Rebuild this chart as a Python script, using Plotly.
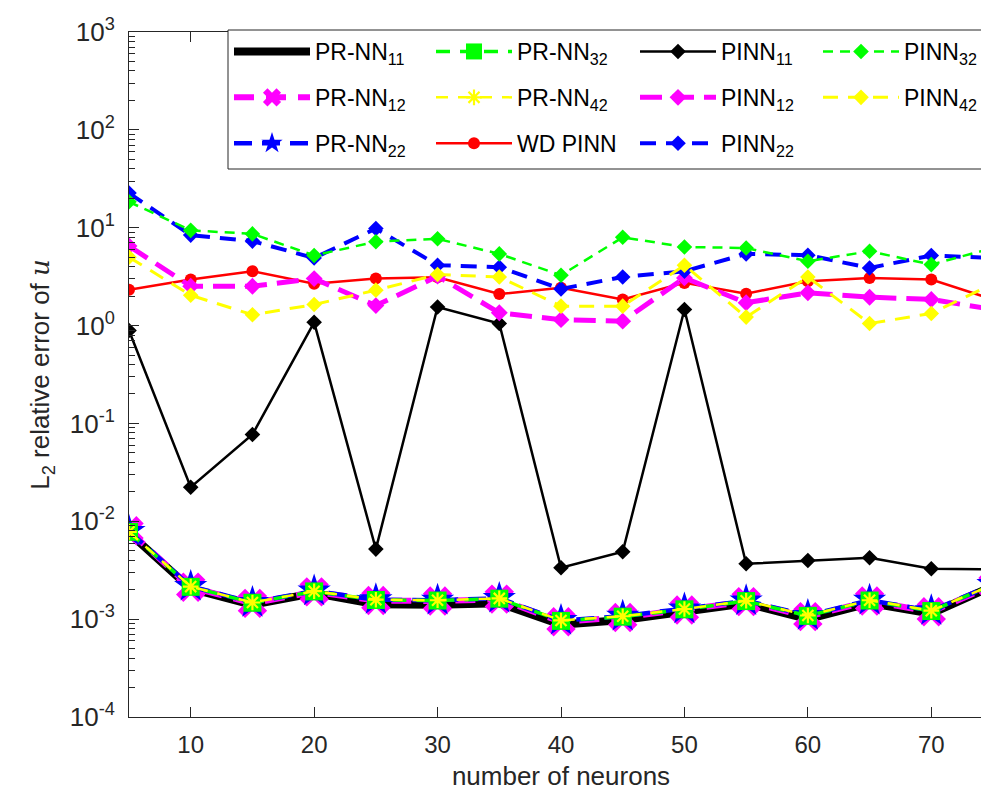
import plotly.graph_objects as go

# ---------------- data ----------------
neurons = [5, 10, 15, 20, 25, 30, 35, 40, 45, 50, 55, 60, 65, 70, 75]

prnn_11 = [0.0076, 0.00205, 0.00140, 0.00185, 0.00142, 0.00140, 0.00145, 0.00088, 0.00098, 0.00118, 0.00145, 0.00100, 0.00146, 0.00114, 0.00218]
prnn_12 = [0.0080, 0.00212, 0.00145, 0.00190, 0.00155, 0.00153, 0.00160, 0.00094, 0.00104, 0.00124, 0.00151, 0.00106, 0.00153, 0.00119, 0.00222]
prnn_22 = [0.0079, 0.00216, 0.00148, 0.00194, 0.00158, 0.00156, 0.00163, 0.00097, 0.00107, 0.00127, 0.00154, 0.00109, 0.00156, 0.00122, 0.00226]
prnn_32 = [0.0078, 0.00214, 0.00147, 0.00192, 0.00157, 0.00155, 0.00162, 0.00096, 0.00106, 0.00126, 0.00153, 0.00108, 0.00155, 0.00121, 0.00225]
prnn_42 = [0.0078, 0.00215, 0.00148, 0.00193, 0.00158, 0.00156, 0.00163, 0.00097, 0.00107, 0.00127, 0.00154, 0.00109, 0.00156, 0.00122, 0.00226]
wd_pinn = [2.32, 2.95, 3.59, 2.67, 3.02, 3.12, 2.10, 2.43, 1.85, 2.73, 2.12, 2.84, 3.07, 2.95, 1.85]
pinn_11 = [0.89, 0.0223, 0.077, 1.08, 0.0052, 1.55, 1.05, 0.00335, 0.00489, 1.46, 0.00368, 0.00398, 0.00424, 0.00327, 0.00322]
pinn_12 = [6.5, 2.52, 2.52, 3.02, 1.60, 3.20, 1.35, 1.15, 1.11, 3.07, 1.71, 2.16, 1.95, 1.85, 1.46]
pinn_22 = [22.6, 8.4, 7.3, 4.9, 9.8, 4.14, 3.95, 2.37, 3.14, 3.59, 5.4, 5.24, 3.88, 5.2, 4.9]
pinn_32 = [18.4, 9.4, 8.65, 5.2, 7.2, 7.7, 5.4, 3.27, 7.98, 6.36, 6.2, 4.54, 5.75, 4.2, 6.2]
pinn_42 = [5.0, 2.04, 1.29, 1.64, 2.3, 3.32, 3.14, 1.58, 1.58, 4.14, 1.22, 3.14, 1.05, 1.33, 2.67]

x_tickvals = [10, 20, 30, 40, 50, 60, 70]
y_tickvals = [1e-4, 1e-3, 1e-2, 1e-1, 1e0, 1e1, 1e2, 1e3]
y_ticktext = ["10<sup>-4</sup>", "10<sup>-3</sup>", "10<sup>-2</sup>", "10<sup>-1</sup>",
              "10<sup>0</sup>", "10<sup>1</sup>", "10<sup>2</sup>", "10<sup>3</sup>"]

FONT = "Liberation Sans, Arial, Helvetica, sans-serif"
AX = "#262626"

# figure geometry (pixels)
W, H = 989, 794
ML, MR, MT, MB = 121, 4, 24, 85
PW, PH = W - ML - MR, H - MT - MB


def px_x(p):
    return (p - ML) / PW


def px_y(p):
    return (H - MB - p) / PH


fig = go.Figure()


def add(name, y, color, width, dash, symbol, size, leg, mline=0):
    mode = "lines+markers" if symbol else "lines"
    marker = dict(color=color, size=size, symbol=symbol or "circle",
                  line=dict(color=color, width=mline))
    fig.add_trace(go.Scatter(x=neurons, y=y, name=name, mode=mode,
                             line=dict(color=color, width=width, dash=dash),
                             marker=marker, legend=leg, legendgroup=name))


add("PR-NN<sub>11</sub>", prnn_11, "#000000", 8, "solid", None, 10, "legend")
add("PR-NN<sub>12</sub>", prnn_12, "#FF00FF", 6, "20px,12px", "x", 26, "legend")
add("PR-NN<sub>22</sub>", prnn_22, "#0000FF", 4.5, "18px,10px", "star", 25, "legend")
add("PR-NN<sub>32</sub>", prnn_32, "#00FF00", 3.5, "14px,10px", "square", 18, "legend2")
add("PR-NN<sub>42</sub>", prnn_42, "#FFFF00", 2.5, "12px,10px", "asterisk-open", 13, "legend2", mline=2.2)
add("WD PINN", wd_pinn, "#FF0000", 2.5, "solid", "circle", 12, "legend2")
add("PINN<sub>11</sub>", pinn_11, "#000000", 2.5, "solid", "diamond", 12, "legend3")
add("PINN<sub>12</sub>", pinn_12, "#FF00FF", 5, "22px,10px", "diamond", 13, "legend3")
add("PINN<sub>22</sub>", pinn_22, "#0000FF", 4, "16px,10px", "diamond", 12, "legend3")
add("PINN<sub>32</sub>", pinn_32, "#00FF00", 2.5, "10px,7px", "diamond", 12, "legend4")
add("PINN<sub>42</sub>", pinn_42, "#FFFF00", 3, "15px,10px", "diamond", 12, "legend4")

leg_top = px_y(22)
col_x = [221, 423, 627, 810]


def leg(xp):
    return dict(orientation="v", x=px_x(xp), xanchor="left", y=leg_top, yanchor="top",
                bgcolor="rgba(0,0,0,0)", borderwidth=0, itemwidth=76,
                tracegroupgap=13, traceorder="grouped",
                font=dict(family=FONT, size=23, color="#000000"))


fig.update_layout(
    width=W, height=H,
    margin=dict(l=ML, r=MR, t=MT, b=MB),
    paper_bgcolor="white", plot_bgcolor="white",
    font=dict(family=FONT, size=24, color=AX),
    showlegend=True,
    legend=leg(col_x[0]), legend2=leg(col_x[1]), legend3=leg(col_x[2]), legend4=leg(col_x[3]),
    shapes=[dict(type="rect", xref="paper", yref="paper",
                 x0=px_x(220), x1=px_x(987), y0=px_y(161), y1=px_y(22),
                 line=dict(color=AX, width=1), fillcolor="white", layer="above")],
    xaxis=dict(
        range=[5, 75], tickvals=x_tickvals, ticks="inside", ticklen=10,
        tickcolor=AX, showline=True, linecolor=AX, linewidth=1, mirror="ticks",
        showgrid=False, zeroline=False, ticklabelstandoff=6,
        tickfont=dict(size=24, color=AX),
        title=dict(text="number of neurons", font=dict(size=26, color=AX), standoff=10),
    ),
    yaxis=dict(
        type="log", range=[-4, 3], tickvals=y_tickvals, ticktext=y_ticktext,
        ticks="inside", ticklen=10, tickcolor=AX, showline=True, linecolor=AX,
        linewidth=1, mirror="ticks", showgrid=False, zeroline=False, ticklabelstandoff=8,
        minor=dict(ticks="inside", ticklen=6, tickcolor=AX, dtick="D1", showgrid=False),
        tickfont=dict(size=26, color=AX),
        title=dict(text="L<sub>2</sub> relative error of "
                        "<span style=\"font-family:'DejaVu Serif', serif\"><i>u</i></span>",
                   font=dict(size=26, color=AX), standoff=12),
    ),
)

fig.write_html("out.html")
